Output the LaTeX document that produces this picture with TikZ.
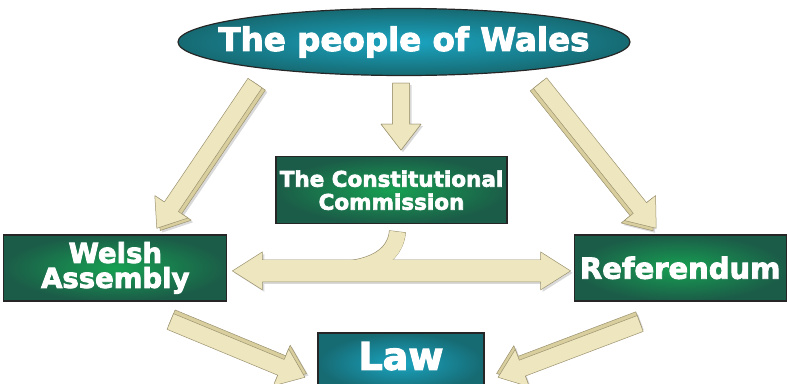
\documentclass[tikz,border=0pt]{standalone}
\usepackage{fontspec}
\setsansfont{DejaVu Sans}[BoldFeatures={FakeBold=3}]
\usetikzlibrary{shapes.geometric, positioning, calc, shadows}

\definecolor{beige}{HTML}{EDE6BE}
\definecolor{beigeside}{HTML}{D8CE9E}
\definecolor{beigeline}{HTML}{9C9270}
\definecolor{boxline}{HTML}{262626}
\definecolor{greenin}{HTML}{17A052}
\definecolor{greenout}{HTML}{1B5C48}
\definecolor{tealin}{HTML}{1BA5C2}
\definecolor{tealout}{HTML}{166A72}

% fat 3d arrow: #1 side offset, #2 from, #3 to
\newcommand{\fatarrow}[3]{%
  \path let \p1=#2, \p2=#3 in \pgfextra{%
    \pgfmathsetmacro{\arrang}{atan2(\y2-\y1,\x2-\x1)}%
    \pgfmathsetmacro{\arrlen}{veclen(\x2-\x1,\y2-\y1)}%
    \global\let\arrang\arrang \global\let\arrlen\arrlen};
  \begin{scope}[shift={#2}, rotate=\arrang]
    \path[arrowside, yshift=#1] (0pt,-8.5pt) -- ({\arrlen pt-26pt},-8.5pt)
      -- ({\arrlen pt-26pt},-20pt) -- ({\arrlen pt},0pt) -- ({\arrlen pt-26pt},20pt)
      -- ({\arrlen pt-26pt},8.5pt) -- (0pt,8.5pt) -- cycle;
    \path[arrowface] (0pt,-8.5pt) -- ({\arrlen pt-26pt},-8.5pt)
      -- ({\arrlen pt-26pt},-20pt) -- ({\arrlen pt},0pt) -- ({\arrlen pt-26pt},20pt)
      -- ({\arrlen pt-26pt},8.5pt) -- (0pt,8.5pt) -- cycle;
  \end{scope}}

\begin{document}
\begin{tikzpicture}[
	x=1pt, y=-1pt,
	block/.style={rectangle, draw=boxline, line width=1.2pt, text=white,
		font=\sffamily\bfseries, align=center, inner sep=0pt},
	greenbox/.style={block, inner color=greenin, outer color=greenout},
	tealbox/.style={block, inner color=tealin, outer color=tealout},
	arrowface/.style={fill=beige, draw=beigeline, line width=0.5pt, line join=round},
	arrowside/.style={fill=beigeside, draw=beigeline, line width=0.5pt, line join=round,
		drop shadow={opacity=0.3, shadow xshift=2pt, shadow yshift=-2pt}},
	]
	\useasboundingbox (0,0) rectangle (787,383);

	\node [tealbox, ellipse, minimum width=452pt, minimum height=67pt] (wales) at (404,42) {};
	\node [text=white, font=\sffamily\bfseries\fontsize{32.5}{34}\selectfont] (walestext) at (wales) {The people of Wales};
	\node [greenbox, below=80pt of wales, xshift=-12.5pt, minimum width=231pt, minimum height=67pt,
		font=\sffamily\bfseries\fontsize{21.5}{23}\selectfont] (commission) {The Constitutional\\Commission};
	\node [greenbox, below left=10pt and 48pt of commission, minimum width=223pt, minimum height=66pt,
		font=\sffamily\bfseries\fontsize{27.5}{25}\selectfont] (assembly) {Welsh\\Assembly};
	\node [greenbox, below right=10pt and 66pt of commission, minimum width=212pt, minimum height=66pt,
		font=\sffamily\bfseries\fontsize{29}{30}\selectfont] (referendum) {Referendum};
	\node [tealbox, below=108pt of commission, xshift=9.5pt, minimum width=166pt, minimum height=60pt,
		font=\sffamily\bfseries\fontsize{38}{40}\selectfont, text depth=14pt] (law) {Law};

	\fatarrow{4pt}{([xshift=-149pt,yshift=-7pt]wales.south)}{([xshift=41.5pt,yshift=6pt]assembly.north)}
	\fatarrow{0pt}{([xshift=-3pt,yshift=-7pt]wales.south)}{([xshift=9.5pt,yshift=6pt]commission.north)}
	\fatarrow{-4pt}{([xshift=136pt,yshift=-7pt]wales.south)}{([xshift=-24pt,yshift=6pt]referendum.north)}
	\fatarrow{4pt}{([xshift=55pt,yshift=-20pt]assembly.south)}{([xshift=-96pt,yshift=-45pt]law.north)}
	\fatarrow{-4pt}{([xshift=-40pt,yshift=-22pt]referendum.south)}{([xshift=97pt,yshift=-45pt]law.north)}

	% two way arrow with the branch from the commission
	\coordinate (dl) at ([xshift=5pt,yshift=-3pt]assembly.east);
	\coordinate (dr) at ([xshift=-3pt,yshift=-3pt]referendum.west);
	\path [arrowface, drop shadow={opacity=0.3, shadow xshift=2pt, shadow yshift=-2pt}]
		(dl) -- ++(30,-19) -- ++(0,8) -- ($(dr)+(-30,-11)$) -- ++(0,-8) -- (dr)
		-- ++(-30,19) -- ++(0,-8) -- ($(dl)+(30,11)$) -- ++(0,8) -- cycle;
	\draw [beigeline, line width=17pt] ([xshift=6pt,yshift=-7pt]commission.south) to[out=-95, in=0] ($(dl)!0.25!(dr)$);
	\draw [beige, line width=16pt] ([xshift=6pt,yshift=-7.5pt]commission.south) to[out=-95, in=0] ($(dl)!0.25!(dr)$);
	\fill [beige] ($(dl)+(30,-10.5)$) rectangle ($(dr)+(-30,10.5)$);
\end{tikzpicture}
\end{document}
